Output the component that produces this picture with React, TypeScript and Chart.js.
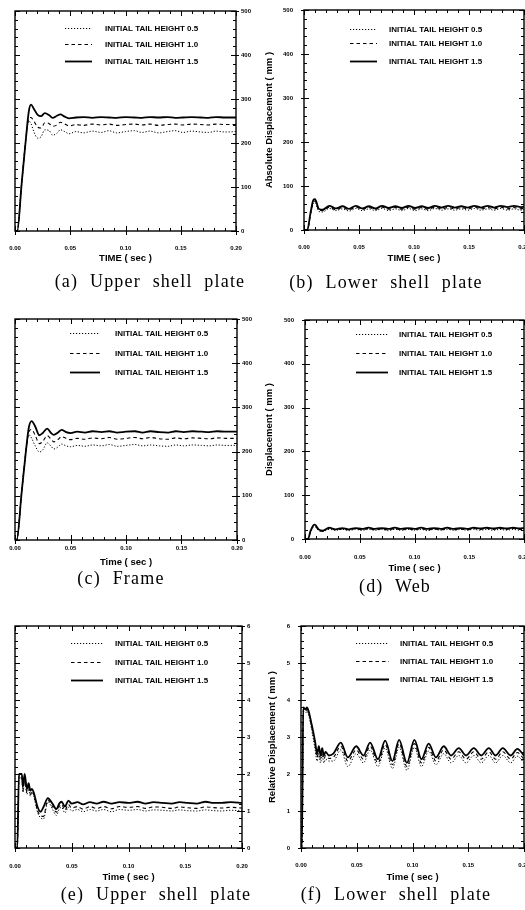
import React, { useEffect, useRef } from 'react';
import { Chart, registerables } from 'chart.js';

Chart.register(...registerables);
Chart.defaults.font.family = '"Liberation Sans", Arial, sans-serif';

// ---------- shared labels / ticks ----------
const seriesLabels = ['INITIAL TAIL HEIGHT 0.5', 'INITIAL TAIL HEIGHT 1.0', 'INITIAL TAIL HEIGHT 1.5'];
const xTickValues = [0, 0.05, 0.1, 0.15, 0.2];
const xTickLabels = ['0.00', '0.05', '0.10', '0.15', '0.20'];
const absTickValues = [0, 100, 200, 300, 400, 500];
const absTickLabels = ['0', '100', '200', '300', '400', '500'];
const relTickValues = [0, 1, 2, 3, 4, 5, 6];
const relTickLabels = ['0', '1', '2', '3', '4', '5', '6'];

// ---------- (a) Upper shell plate, absolute ----------
const timeA = [0, 0.002, 0.006, 0.010, 0.0125, 0.0145, 0.017, 0.0205, 0.0235, 0.027, 0.031, 0.034, 0.038, 0.041, 0.045, 0.049,
  0.055, 0.062, 0.070, 0.078, 0.085, 0.092, 0.100, 0.108, 0.115, 0.122, 0.130, 0.138, 0.145, 0.152, 0.160, 0.168, 0.175, 0.182, 0.190, 0.200];
const a05 = [0, 0, 107, 213, 250, 244, 226, 211, 214, 230, 228, 218, 222, 230, 226, 221,
  226, 223, 227, 224, 228, 223, 226, 228, 224, 227, 223, 226, 228, 224, 227, 225, 224, 227, 225, 226];
const a10 = [0, 0, 107, 213, 256, 258, 250, 236, 234, 246, 244, 238, 241, 247, 243, 239,
  242, 240, 243, 241, 243, 240, 242, 243, 241, 243, 240, 242, 243, 241, 243, 242, 241, 243, 242, 242];
const a15 = [0, 0, 107, 213, 272, 287, 278, 264, 261, 268, 263, 257, 262, 265, 260, 256,
  258, 259, 257, 259, 258, 257, 259, 258, 257, 259, 258, 259, 257, 258, 259, 258, 257, 259, 258, 258];

// ---------- (b) Lower shell plate, absolute ----------
const timeB = [0, 0.003, 0.006, 0.0085, 0.010, 0.0135, 0.017,
  0.023, 0.029, 0.035, 0.041, 0.047, 0.053, 0.059, 0.065, 0.071, 0.077, 0.083, 0.089, 0.095, 0.101, 0.107,
  0.113, 0.119, 0.125, 0.131, 0.137, 0.143, 0.149, 0.155, 0.161, 0.167, 0.173, 0.179, 0.185, 0.191, 0.197, 0.200];
const b05 = [0, 0, 35, 60, 62, 42, 41,
  49, 44, 48, 43, 49, 44, 48, 44, 49, 44, 48, 44, 49, 44, 48, 44, 49, 45, 48, 45, 48, 45, 49, 45, 48, 45, 49, 45, 48, 45, 47];
const b10 = [0, 0, 37, 64, 66, 45, 44,
  52, 46, 51, 46, 52, 47, 51, 47, 52, 47, 51, 47, 52, 47, 51, 47, 52, 48, 51, 48, 51, 48, 52, 48, 51, 48, 52, 48, 51, 48, 50];
const b15 = [0, 0, 40, 68, 70, 48, 46,
  55, 49, 54, 48, 55, 49, 54, 49, 55, 50, 54, 50, 55, 50, 54, 50, 55, 51, 55, 51, 54, 51, 55, 51, 55, 51, 55, 52, 55, 52, 53];

// ---------- (c) Frame ----------
const timeC = [0, 0.0015, 0.006, 0.010, 0.0125, 0.015, 0.018, 0.022, 0.025, 0.029, 0.0325, 0.035, 0.039, 0.042, 0.046, 0.050,
  0.056, 0.063, 0.070, 0.078, 0.085, 0.092, 0.100, 0.108, 0.115, 0.122, 0.130, 0.138, 0.145, 0.152, 0.160, 0.168, 0.175, 0.182, 0.190, 0.200];
const c05 = [0, 0, 108, 205, 238, 230, 214, 199, 204, 220, 212, 206, 211, 217, 213, 211,
  214, 212, 215, 213, 216, 212, 214, 216, 213, 215, 213, 212, 215, 213, 215, 214, 213, 215, 214, 214];
const c10 = [0, 0, 108, 205, 245, 250, 238, 218, 223, 236, 228, 222, 228, 234, 230, 227,
  230, 228, 231, 229, 232, 228, 230, 232, 229, 232, 229, 228, 231, 229, 231, 230, 229, 231, 230, 230];
const c15 = [0, 0, 108, 205, 255, 269, 258, 237, 242, 252, 242, 238, 244, 249, 244, 242,
  245, 243, 246, 244, 246, 243, 245, 246, 243, 246, 244, 243, 246, 244, 246, 245, 244, 246, 245, 245];

// ---------- (d) Web ----------
const timeD = [0, 0.0027, 0.005, 0.0075, 0.009, 0.0125, 0.016,
  0.022, 0.028, 0.034, 0.040, 0.046, 0.052, 0.058, 0.064, 0.070, 0.076, 0.082, 0.088, 0.094, 0.100, 0.106,
  0.112, 0.118, 0.124, 0.130, 0.136, 0.142, 0.148, 0.154, 0.160, 0.166, 0.172, 0.178, 0.184, 0.190, 0.196, 0.200];
const d05 = [0, 0, 15, 27, 28, 19, 17,
  22, 20, 22, 19, 22, 20, 22, 20, 22, 19, 22, 20, 22, 20, 22, 19, 22, 20, 22, 20, 22, 20, 22, 20, 22, 20, 22, 20, 22, 20, 21];
const d10 = [0, 0, 16, 29, 30, 20, 18,
  24, 21, 23, 21, 24, 21, 24, 21, 23, 21, 24, 21, 23, 21, 24, 21, 23, 21, 24, 21, 23, 21, 24, 22, 24, 22, 24, 22, 24, 22, 23];
const d15 = [0, 0, 18, 31, 33, 22, 19,
  26, 22, 25, 22, 25, 23, 26, 23, 25, 23, 26, 23, 25, 23, 26, 23, 25, 23, 26, 23, 25, 23, 26, 24, 26, 24, 26, 24, 26, 24, 25];

// ---------- (e) Upper shell plate, relative ----------
const timeE = [0, 0.002, 0.0035, 0.006, 0.007, 0.0085, 0.0105, 0.012, 0.0135, 0.015, 0.0165, 0.020, 0.0225, 0.025, 0.029,
  0.033, 0.0365, 0.039, 0.041, 0.044, 0.047, 0.050, 0.055, 0.060, 0.066, 0.072, 0.078, 0.085, 0.092, 0.100,
  0.108, 0.115, 0.122, 0.130, 0.138, 0.145, 0.152, 0.160, 0.168, 0.175, 0.182, 0.190, 0.200];
const e05 = [0, 0, 1.85, 1.9, 1.5, 1.8, 1.45, 1.6, 1.4, 1.5, 1.4, 0.95, 0.82, 0.78, 1.25,
  1.05, 0.88, 1.05, 1.1, 0.95, 1.1, 1.0, 1.04, 0.98, 1.04, 1.0, 1.04, 0.98, 1.04, 1.02,
  1.04, 1.0, 1.03, 1.02, 1.0, 1.03, 1.01, 1.0, 1.03, 1.01, 1.0, 1.02, 1.0];
const e10 = [0, 0, 1.95, 1.95, 1.55, 1.9, 1.5, 1.7, 1.45, 1.55, 1.45, 1.0, 0.88, 0.85, 1.3,
  1.12, 0.97, 1.12, 1.18, 1.02, 1.18, 1.08, 1.12, 1.05, 1.12, 1.07, 1.12, 1.06, 1.12, 1.1,
  1.12, 1.07, 1.11, 1.1, 1.07, 1.11, 1.09, 1.07, 1.11, 1.09, 1.08, 1.1, 1.08];
const e15 = [0, 0, 2.0, 2.0, 1.65, 2.0, 1.6, 1.75, 1.55, 1.6, 1.5, 1.1, 0.98, 1.1, 1.35,
  1.2, 1.05, 1.2, 1.25, 1.12, 1.28, 1.2, 1.24, 1.18, 1.24, 1.2, 1.25, 1.2, 1.24, 1.22,
  1.25, 1.2, 1.24, 1.22, 1.2, 1.24, 1.22, 1.2, 1.25, 1.22, 1.22, 1.24, 1.22];

// ---------- (f) Lower shell plate, relative ----------
const timeF = [0, 0.0008, 0.002, 0.004, 0.0055, 0.0068, 0.0095, 0.0125, 0.0145, 0.016, 0.0175, 0.019, 0.0205, 0.022,
  0.025, 0.029, 0.0357, 0.042, 0.0495, 0.056, 0.062, 0.069, 0.0755, 0.082, 0.088, 0.095, 0.1017, 0.108,
  0.1145, 0.121, 0.128, 0.1346, 0.1415, 0.148, 0.155, 0.1616, 0.1685, 0.1745, 0.181, 0.188, 0.194, 0.200];
const f05 = [0, 0, 3.7, 3.65, 3.7, 3.6, 3.2, 2.7, 2.35, 2.55, 2.3, 2.5, 2.3, 2.4,
  2.35, 2.35, 2.65, 2.2, 2.55, 2.3, 2.65, 2.2, 2.7, 2.15, 2.72, 2.1, 2.72, 2.2,
  2.62, 2.25, 2.55, 2.3, 2.5, 2.3, 2.5, 2.3, 2.5, 2.3, 2.5, 2.3, 2.48, 2.3];
const f10 = [0, 0, 3.75, 3.7, 3.75, 3.65, 3.3, 2.8, 2.45, 2.65, 2.4, 2.6, 2.4, 2.5,
  2.42, 2.45, 2.75, 2.35, 2.65, 2.4, 2.75, 2.3, 2.8, 2.25, 2.82, 2.2, 2.82, 2.3,
  2.72, 2.35, 2.65, 2.4, 2.6, 2.4, 2.6, 2.4, 2.6, 2.4, 2.6, 2.4, 2.58, 2.4];
const f15 = [0, 0, 3.8, 3.75, 3.8, 3.7, 3.35, 2.9, 2.55, 2.75, 2.5, 2.7, 2.5, 2.6,
  2.5, 2.55, 2.85, 2.45, 2.75, 2.5, 2.85, 2.4, 2.9, 2.35, 2.92, 2.3, 2.92, 2.4,
  2.82, 2.45, 2.75, 2.5, 2.7, 2.5, 2.7, 2.5, 2.7, 2.5, 2.7, 2.5, 2.68, 2.5];

// ---------- styles ----------
const lineDashes: number[][] = [[1.2, 1.8], [3.5, 3], []];
const lineWidths = [1, 1.1, 1.8];

type Rect = { l: number; t: number; r: number; b: number };
type PanelDef = {
  canvas: { left: number; top: number; w: number; h: number };
  plot: Rect;
  ySide: 'left' | 'right';
  yTicks: number[];
  yLabels: string[];
  yTitle?: string;
  yTitleX?: number;
  xTitle: string;
  xLabelY: number;
  xTitleY: number;
  times: number[];
  series: number[][];
  legend: { lineX: number; lineLen: number; textX: number; rows: number[] };
  caption: string;
  captionX: number;
  captionY: number;
};

const panels: PanelDef[] = [
  {
    canvas: { left: 0, top: 0, w: 262, h: 272 }, plot: { l: 15, t: 11, r: 236, b: 231 },
    ySide: 'right', yTicks: absTickValues, yLabels: absTickLabels,
    xTitle: 'TIME ( sec )', xLabelY: 248, xTitleY: 258,
    times: timeA, series: [a05, a10, a15],
    legend: { lineX: 50, lineLen: 27, textX: 90, rows: [17, 33, 50] },
    caption: '(a) Upper shell plate', captionX: 150, captionY: 281,
  },
  {
    canvas: { left: 262, top: 0, w: 276, h: 272 }, plot: { l: 304, t: 10, r: 524, b: 230 },
    ySide: 'left', yTicks: absTickValues, yLabels: absTickLabels,
    yTitle: 'Absolute Displacement ( mm )', yTitleX: 269,
    xTitle: 'TIME ( sec )', xLabelY: 247, xTitleY: 258,
    times: timeB, series: [b05, b10, b15],
    legend: { lineX: 46, lineLen: 27, textX: 85, rows: [19, 33, 51] },
    caption: '(b) Lower shell plate', captionX: 386, captionY: 282,
  },
  {
    canvas: { left: 0, top: 300, w: 262, h: 270 }, plot: { l: 15, t: 319, r: 237, b: 540 },
    ySide: 'right', yTicks: absTickValues, yLabels: absTickLabels,
    xTitle: 'Time ( sec )', xLabelY: 548, xTitleY: 562,
    times: timeC, series: [c05, c10, c15],
    legend: { lineX: 55, lineLen: 30, textX: 100, rows: [14, 34, 53] },
    caption: '(c) Frame', captionX: 121, captionY: 578,
  },
  {
    canvas: { left: 262, top: 300, w: 276, h: 276 }, plot: { l: 305, t: 320, r: 524, b: 539 },
    ySide: 'left', yTicks: absTickValues, yLabels: absTickLabels,
    yTitle: 'Displacement ( mm )', yTitleX: 269,
    xTitle: 'Time ( sec )', xLabelY: 557, xTitleY: 568,
    times: timeD, series: [d05, d10, d15],
    legend: { lineX: 51, lineLen: 32, textX: 94, rows: [14, 33, 52] },
    caption: '(d) Web', captionX: 395, captionY: 586,
  },
  {
    canvas: { left: 0, top: 600, w: 262, h: 285 }, plot: { l: 15, t: 626, r: 242, b: 848 },
    ySide: 'right', yTicks: relTickValues, yLabels: relTickLabels,
    xTitle: 'Time ( sec )', xLabelY: 866, xTitleY: 877,
    times: timeE, series: [e05, e10, e15],
    legend: { lineX: 56, lineLen: 32, textX: 100, rows: [17, 36, 54] },
    caption: '(e) Upper shell plate', captionX: 156, captionY: 894,
  },
  {
    canvas: { left: 262, top: 600, w: 276, h: 285 }, plot: { l: 301, t: 626, r: 524, b: 848 },
    ySide: 'left', yTicks: relTickValues, yLabels: relTickLabels,
    yTitle: 'Relative Displacement ( mm )', yTitleX: 272,
    xTitle: 'Time ( sec )', xLabelY: 865, xTitleY: 877,
    times: timeF, series: [f05, f10, f15],
    legend: { lineX: 55, lineLen: 33, textX: 99, rows: [17, 35, 53] },
    caption: '(f) Lower shell plate', captionX: 396, captionY: 894,
  },
];

const TICK_FONT = 6;
const TITLE_FONT = 9.5;

function makeFramePlugin(p: PanelDef) {
  return {
    id: 'frameTicksLegend',
    afterDatasetsDraw(chart: any) {
      const { ctx, chartArea: a, scales } = chart;
      const xs = scales.x;
      const ys = scales.y;
      ctx.save();
      ctx.strokeStyle = '#000';
      ctx.lineWidth = 1.4;
      ctx.setLineDash([]);
      ctx.strokeRect(a.left, a.top, a.right - a.left, a.bottom - a.top);
      ctx.lineWidth = 1;
      ctx.beginPath();
      const nx = 20;
      for (let i = 0; i <= nx; i++) {
        const v = xs.min + ((xs.max - xs.min) * i) / nx;
        const px = Math.round(xs.getPixelForValue(v)) + 0.5;
        const major = i % 5 === 0;
        const len = major ? 5 : 3;
        ctx.moveTo(px, a.bottom + (major ? 4 : 0));
        ctx.lineTo(px, a.bottom - len);
        ctx.moveTo(px, a.top);
        ctx.lineTo(px, a.top + len);
      }
      const nMaj = p.yTicks.length - 1;
      const nMin = nMaj * 5;
      for (let i = 0; i <= nMin; i++) {
        const v = ys.min + ((ys.max - ys.min) * i) / nMin;
        const py = Math.round(ys.getPixelForValue(v)) + 0.5;
        const major = i % 5 === 0;
        const len = major ? 5 : 3;
        const outL = p.ySide === 'left' && major ? 3 : 0;
        const outR = p.ySide === 'right' && major ? 3 : 0;
        ctx.moveTo(a.left - outL, py);
        ctx.lineTo(a.left + len, py);
        ctx.moveTo(a.right + outR, py);
        ctx.lineTo(a.right - len, py);
      }
      ctx.stroke();

      const lg = p.legend;
      chart.data.datasets.forEach((ds: any, k: number) => {
        const y = Math.round(a.top + lg.rows[k]) + 0.5;
        ctx.save();
        ctx.setLineDash(ds.borderDash || []);
        ctx.lineWidth = ds.borderWidth;
        ctx.beginPath();
        ctx.moveTo(a.left + lg.lineX, y);
        ctx.lineTo(a.left + lg.lineX + lg.lineLen, y);
        ctx.stroke();
        ctx.restore();
        ctx.font = 'bold 8px "Liberation Sans", Arial, sans-serif';
        ctx.textBaseline = 'middle';
        ctx.fillStyle = '#000';
        ctx.fillText(ds.label, a.left + lg.textX, y);
      });
      ctx.restore();
    },
  };
}

function PanelChart({ p }: { p: PanelDef }) {
  const ref = useRef<HTMLCanvasElement | null>(null);
  useEffect(() => {
    if (!ref.current) return;
    const c = p.canvas;
    const canvasRight = c.left + c.w;
    const canvasBottom = c.top + c.h;
    const padTop = p.plot.t - c.top;
    const xAxisH = canvasBottom - p.plot.b;
    const yAxisW = p.ySide === 'left' ? p.plot.l - c.left : canvasRight - p.plot.r;
    const padLeft = p.ySide === 'left' ? 0 : p.plot.l - c.left;
    const padRight = p.ySide === 'left' ? canvasRight - p.plot.r : 0;
    const xLabelGap = p.xLabelY - p.plot.b - TICK_FONT * 0.6;
    const titleLH = TITLE_FONT * 1.2;
    const xTitlePadBottom = canvasBottom - p.xTitleY - titleLH / 2;
    const yTitlePadTop = p.yTitleX ? p.yTitleX - c.left - titleLH / 2 : 0;

    const datasets = p.series.map((vals, k) => ({
      label: seriesLabels[k],
      data: vals.map((y, i) => ({ x: p.times[i], y })),
      borderColor: '#000',
      backgroundColor: '#000',
      borderWidth: lineWidths[k],
      borderDash: lineDashes[k],
      pointRadius: 0,
      cubicInterpolationMode: 'monotone' as const,
      fill: false,
    }));

    const hiddenGrid = (len: number) => ({
      display: true,
      drawOnChartArea: false,
      drawTicks: true,
      tickLength: len,
      color: 'rgba(0,0,0,0)',
    });

    const chart = new Chart(ref.current, {
      type: 'line',
      data: { datasets },
      options: {
        responsive: false,
        animation: false,
        devicePixelRatio: 1,
        layout: { padding: { left: padLeft, right: padRight, top: padTop, bottom: 0 } },
        plugins: { legend: { display: false }, tooltip: { enabled: false }, title: { display: false } },
        scales: {
          x: {
            type: 'linear',
            min: 0,
            max: 0.2,
            afterBuildTicks: (s: any) => {
              s.ticks = xTickValues.map((v) => ({ value: v }));
            },
            ticks: {
              callback: (_v: any, i: number) => xTickLabels[i],
              font: { size: TICK_FONT, weight: 'bold' },
              color: '#000',
              padding: 0,
              maxRotation: 0,
              autoSkip: false,
            },
            grid: hiddenGrid(xLabelGap),
            border: { display: false },
            title: {
              display: true,
              text: p.xTitle,
              color: '#000',
              font: { size: TITLE_FONT, weight: 'bold' },
              padding: { top: 0, bottom: xTitlePadBottom },
            },
            afterFit: (s: any) => {
              s.height = xAxisH;
            },
          },
          y: {
            type: 'linear',
            position: p.ySide,
            min: p.yTicks[0],
            max: p.yTicks[p.yTicks.length - 1],
            afterBuildTicks: (s: any) => {
              s.ticks = p.yTicks.map((v) => ({ value: v }));
            },
            ticks: {
              callback: (_v: any, i: number) => p.yLabels[i],
              font: { size: TICK_FONT, weight: 'bold' },
              color: '#000',
              padding: 0,
              autoSkip: false,
            },
            grid: hiddenGrid(p.ySide === 'left' ? 11 : 5),
            border: { display: false },
            title: {
              display: !!p.yTitle,
              text: p.yTitle || '',
              color: '#000',
              font: { size: TITLE_FONT, weight: 'bold' },
              padding: { top: yTitlePadTop, bottom: 0 },
            },
            afterFit: (s: any) => {
              s.width = yAxisW;
            },
          },
        },
      },
      plugins: [makeFramePlugin(p)],
    } as any);
    return () => chart.destroy();
  }, [p]);

  return (
    <canvas
      ref={ref}
      width={p.canvas.w}
      height={p.canvas.h}
      style={{ position: 'absolute', left: p.canvas.left, top: p.canvas.top, width: p.canvas.w, height: p.canvas.h }}
    />
  );
}

export default function App() {
  return (
    <div
      style={{
        position: 'absolute',
        left: 0,
        top: 0,
        width: 525,
        height: 910,
        overflow: 'hidden',
        background: '#fff',
      }}
    >
      {panels.map((p, i) => (
        <PanelChart key={i} p={p} />
      ))}
      {panels.map((p, i) => (
        <div
          key={'cap' + i}
          style={{
            position: 'absolute',
            left: p.captionX - 150,
            top: p.captionY - 11,
            width: 300,
            height: 22,
            lineHeight: '22px',
            textAlign: 'center',
            fontFamily: '"Liberation Serif", "Times New Roman", serif',
            fontSize: 18,
            letterSpacing: '1.2px',
            wordSpacing: '6px',
            color: '#000',
            whiteSpace: 'nowrap',
          }}
        >
          {p.caption}
        </div>
      ))}
    </div>
  );
}
